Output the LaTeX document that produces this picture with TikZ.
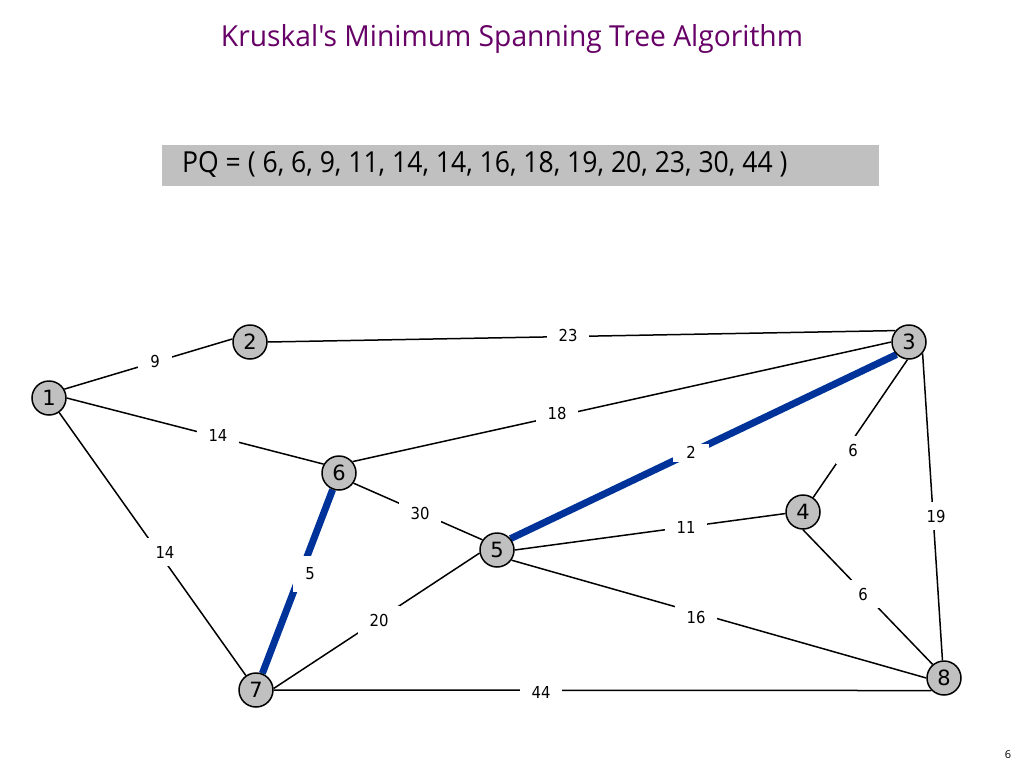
\documentclass[tikz,border=0pt]{standalone}
\usepackage{fontspec}
\usetikzlibrary{backgrounds}
\setmainfont{DejaVu Sans}
\newfontfamily\titlefont{Open Sans}
\newfontfamily\labfont{DejaVu Sans Condensed}
\definecolor{ttl}{RGB}{102,0,102}
\definecolor{mstblue}{RGB}{0,51,153}
\definecolor{vgray}{RGB}{192,192,192}
\begin{document}
\begin{tikzpicture}[x=1pt,y=-1pt,
  vtx/.style={circle, draw=black, line width=1.5pt, fill=vgray, minimum size=34pt, inner sep=0pt, font=\fontsize{21}{21}\selectfont},
  edge/.style={line width=1.5pt, black},
  mst/.style={line width=7pt, mstblue},
  wlab/.style={fill=white, inner xsep=12pt, inner ysep=8pt, text height=12pt, text depth=0pt, font=\labfont\fontsize{16.5}{16.5}\selectfont},
  mstlab/.style={wlab, minimum width=36pt, minimum height=18pt, inner ysep=3pt, text height=11pt}
]
\useasboundingbox (0,0) rectangle (1024,768);

% title and queue
\node[text=ttl, font=\titlefont, anchor=base, inner sep=0pt] (title) at (512,47) {\resizebox{582pt}{22pt}{Kruskal's Minimum Spanning Tree Algorithm}};
\node[fill=vgray, minimum width=717pt, minimum height=41pt, inner sep=0pt] (pqbox) at (520.5,165.5) {};
\node[anchor=base west, font=\titlefont, inner sep=0pt] (pq) at (182,172) {\resizebox{605pt}{21pt}{PQ = ( 6, 6, 9, 11, 14, 14, 16, 18, 19, 20, 23, 30, 44 )}};

% vertices
\node[vtx] (n1) at (49,398) {1};
\node[vtx] (n2) at (250,342) {2};
\node[vtx] (n3) at (909,342) {3};
\node[vtx] (n4) at (803,512) {4};
\node[vtx] (n5) at (497,550) {5};
\node[vtx] (n6) at (339,473) {6};
\node[vtx] (n7) at (256,690) {7};
\node[vtx] (n8) at (944,678) {8};

% edges
\begin{scope}[on background layer]
\draw[edge] (n1.30) -- (n2.170);
\draw[edge] (n2.0) -- (n3.140);
\draw[edge] (n1.0) -- (n6.150);
\draw[edge] (n1.-55) -- (n7.125);
\draw[edge] (n6.40) -- (n3.180);
\draw[edge] (n6.-35) -- (n5.145);
\draw[edge] (n3.-95) -- (n4.55);
\draw[edge] (n3.-40) -- (n8.95);
\draw[edge] (n5.0) -- (n4.185);
\draw[edge] (n4.-90) -- (n8.130);
\draw[edge] (n5.-35) -- (n8.180);
\draw[edge] (n7.5) -- (n5.190);
\draw[edge] (n7.0) -- (n8.225);
\draw[mst] (n6) -- (n7);
\draw[mst] (n5.40) -- (n3.225);
\end{scope}

% edge labels
\node[wlab] (l12) at (155,361) {9};
\node[wlab] (l23) at (568,335) {23};
\node[wlab] (l16) at (218,435) {14};
\node[wlab] (l63) at (557,413) {18};
\node[wlab] (l17) at (165,552) {14};
\node[mstlab, minimum width=14pt, minimum height=36pt] (l67) at (310,574) {5};
\node[wlab] (l65) at (420,513) {30};
\node[mstlab] (l53) at (691,453) {2};
\node[wlab] (l34) at (853,450) {6};
\node[wlab] (l38) at (936,516) {19};
\node[wlab] (l54) at (686,527) {11};
\node[wlab] (l48) at (863,594) {6};
\node[wlab] (l58) at (696,617) {16};
\node[wlab] (l75) at (379,620) {20};
\node[wlab] (l78) at (541,692) {44};

% page number
\node[font=\titlefont\fontsize{11}{11}\selectfont] (page) at (1008,755) {6};
\end{tikzpicture}
\end{document}
